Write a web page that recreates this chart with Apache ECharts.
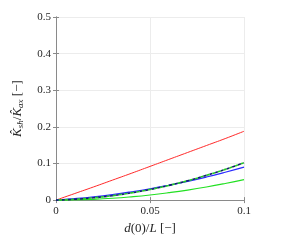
<!DOCTYPE html>
<html><head><meta charset="utf-8">
<script src="https://cdn.jsdelivr.net/npm/echarts@6/dist/echarts.min.js"></script>
<style>html,body{margin:0;padding:0;background:#fff}#c{width:289px;height:240px}</style>
</head><body><div id="c"></div>
<script>
var xVals = [0, 0.01, 0.02, 0.03, 0.04, 0.05, 0.06, 0.07, 0.08, 0.09, 0.1];
var redVals = [0, 0.018, 0.036, 0.0545, 0.073, 0.092, 0.111, 0.130, 0.149, 0.168, 0.188];
var blueVals = [0, 0.0040, 0.0090, 0.0152, 0.0226, 0.031, 0.0406, 0.0512, 0.0630, 0.0760, 0.090];
var dashVals = [0, 0.0023, 0.0063, 0.0121, 0.0197, 0.029, 0.0401, 0.0529, 0.0675, 0.0839, 0.102];
var greenVals = [0, 0.0006, 0.0022, 0.0050, 0.0090, 0.014, 0.0202, 0.0274, 0.0358, 0.0454, 0.056];
var xTicks = [0, 0.05, 0.1];
var yTicks = [0, 0.1, 0.2, 0.3, 0.4, 0.5];

function pairs(v){ return xVals.map(function(x,i){ return [x, v[i]]; }); }
var font = 'Liberation Serif';
var axisCol = '#8a8a8a';
function line(v, color, w, type, off){
  return {type:'line', data:pairs(v), smooth:true, showSymbol:false, symbol:'none', silent:true,
    lineStyle:{color:color, width:w, type:type||'solid', dashOffset:off||0}};
}
var chart = echarts.init(document.getElementById('c'), null, {renderer:'canvas'});
chart.setOption({
  animation:false,
  backgroundColor:'#fff',
  grid:{left:56, right:45, top:17, bottom:34, containLabel:false},
  xAxis:[{type:'value', min:0, max:0.1, interval:0.05, position:'bottom',
    axisLine:{show:true, lineStyle:{color:axisCol, width:1}},
    axisTick:{show:true, inside:true, length:3, lineStyle:{color:axisCol}},
    splitLine:{show:true, lineStyle:{color:'#ececec', width:1}},
    axisLabel:{color:'#262626', fontFamily:font, fontSize:11, margin:6,
      formatter:function(v){ return xTicks.indexOf(Math.round(v*100)/100)>=0 ? String(Math.round(v*100)/100) : ''; }},
    name:'{i|d}(0)/{i|L} [−]', nameLocation:'middle', nameGap:18,
    nameTextStyle:{color:'#262626', fontFamily:font, fontSize:13,
      rich:{i:{fontStyle:'italic', fontFamily:font, fontSize:13, color:'#262626'}}}
  },{type:'value', min:0, max:0.1, interval:0.05, position:'top',
    axisLine:{show:true, lineStyle:{color:axisCol, width:1}},
    axisTick:{show:true, inside:true, length:3, lineStyle:{color:axisCol}},
    splitLine:{show:false}, axisLabel:{show:false}}],
  yAxis:[{type:'value', min:0, max:0.5, interval:0.1, position:'left',
    axisLine:{show:true, lineStyle:{color:axisCol, width:1}},
    axisTick:{show:true, inside:true, length:3, lineStyle:{color:axisCol}},
    splitLine:{show:true, lineStyle:{color:'#ececec', width:1}},
    axisLabel:{color:'#262626', fontFamily:font, fontSize:11, margin:5,
      formatter:function(v){ var r=Math.round(v*10)/10; return yTicks.indexOf(r)>=0 ? String(r) : ''; }},
    name:'{i|K̂}{s|sh}/{i|K̂}{s|ax} [−]', nameLocation:'middle', nameGap:31, nameRotate:90,
    nameTextStyle:{color:'#262626', fontFamily:font, fontSize:13,
      rich:{i:{fontStyle:'italic', fontFamily:font, fontSize:13, color:'#262626'},
            s:{fontStyle:'italic', fontFamily:font, fontSize:9, color:'#262626', verticalAlign:'bottom', padding:[6,0,0,0]}}}
  },{type:'value', min:0, max:0.5, interval:0.1, position:'right',
    axisLine:{show:true, lineStyle:{color:axisCol, width:1}},
    axisTick:{show:true, inside:true, length:3, lineStyle:{color:axisCol}},
    splitLine:{show:false}, axisLabel:{show:false}}],
  series:[
    line(redVals, '#ff2a2a', 1),
    line(greenVals, '#22e022', 1.2),
    line(blueVals, '#2a2aff', 1.2),
    line(dashVals, '#14206e', 1.6, [3,3], 0),
    line(dashVals, '#22cc22', 1.6, [3,3], 3)
  ]
});
</script></body></html>
